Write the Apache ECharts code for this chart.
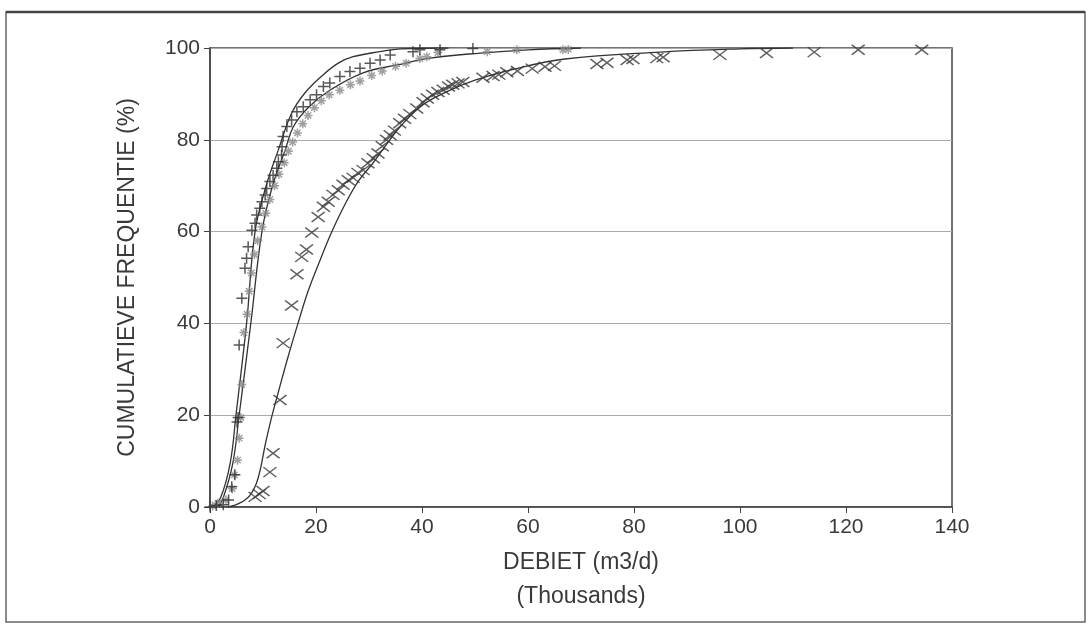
<!DOCTYPE html>
<html>
<head>
<meta charset="utf-8">
<script src="https://cdn.jsdelivr.net/npm/echarts@6/dist/echarts.min.js"></script>
<style>
  html, body { margin: 0; padding: 0; background: #fff; }
  #chart { width: 1090px; height: 630px; }
</style>
</head>
<body>
<div id="chart"></div>
<script>
// tick labels
const xTicks = [0, 20, 40, 60, 80, 100, 120, 140]
const yTicks = [0, 20, 40, 60, 80, 100]

// observed points: [debiet (thousands m3/d), cumulative %]
const plusPoints = [
  [0, 0], [1.2, 0.3], [2.5, 0.5], [3.5, 1.5], [4.1, 4.4], [4.7, 7], [5.1, 18.5], [5.3, 19.5],
  [5.5, 35.3], [6, 45.5], [6.6, 52], [6.9, 54.2], [7.2, 56.7], [7.9, 60.3], [8.5, 61.8],
  [8.8, 63.6], [9.4, 65.1], [9.8, 66.5], [10.4, 68], [10.7, 69.4], [11.3, 70.9], [11.9, 72.3],
  [12.6, 73.8], [12.9, 75.2], [13.5, 76.7], [13.6, 78.5], [13.8, 80.7], [14.5, 82.9],
  [15.4, 84.3], [16.4, 86.1], [17.6, 87.2], [18.9, 88.7], [20.1, 89.8], [21.4, 91.6],
  [22.6, 92.4], [24.5, 93.8], [26.4, 94.9], [28.3, 95.6], [30.2, 96.7], [32.1, 97.4],
  [34, 98.5], [38.3, 99.2], [39.6, 99.6], [43.4, 99.6], [49.6, 99.9]
]
const starPoints = [
  [0.5, 0.2], [1.5, 0.8], [3, 1.5], [4.2, 4], [4.6, 7], [5.2, 10.2], [5.5, 15], [5.8, 19.5],
  [6, 26.7], [6.4, 38], [7, 42], [7.4, 47], [7.8, 51], [8.4, 55], [9, 58], [9.8, 61],
  [10.5, 64], [11.3, 67], [12.2, 70], [13, 72.5], [14, 75], [14.8, 77.5], [15.6, 79.5],
  [16.5, 81.5], [17.5, 83.5], [18.5, 85.3], [19.7, 87], [21, 88.5], [22.5, 89.8],
  [24.5, 90.8], [26.5, 92], [28.3, 92.8], [30.5, 94], [32.5, 95], [35, 96], [37, 96.7],
  [39.6, 97.7], [40.9, 98.1], [43, 99], [52.3, 99.2], [57.9, 99.6], [66.6, 99.6], [67.6, 99.7]
]
const crossPoints = [
  [8.5, 2.2], [9.3, 2.8], [10, 3.5], [11.3, 7.6], [11.9, 11.7], [13.2, 23.3], [13.8, 35.7],
  [15.4, 43.9], [16.4, 50.7], [17.3, 54.5], [18.2, 56.1], [19.2, 59.8], [20.4, 63.2],
  [21.4, 65.4], [22.3, 66.5], [23.2, 68], [24.2, 69], [25.1, 70.2], [26.1, 71.2], [27, 71.7],
  [27.9, 72.8], [28.9, 73.4], [29.8, 74.9], [30.8, 76], [31.7, 77], [32.5, 78.6], [33.3, 80],
  [34, 81], [34.8, 82], [35.8, 83.6], [36.7, 84.6], [37.7, 85.6], [39, 86.8], [40.2, 88.2],
  [41, 89], [42, 89.8], [43, 90.4], [44, 90.9], [45, 91.6], [45.8, 92], [46.8, 92.3],
  [47.7, 92.6], [51.5, 93.5], [53.4, 93.9], [54.5, 94.2], [56, 94.7], [58, 95], [60.8, 95.5],
  [63.2, 95.9], [65, 96.1], [73, 96.5], [74.9, 96.8], [78.7, 97.4], [79.8, 97.6], [84.3, 97.8],
  [85.5, 98], [96.2, 98.5], [105, 98.9], [114, 99.1], [122.3, 99.6], [134.3, 99.6]
]

// fitted curves
const fitOuter = [
  [0.5, 0], [2, 2], [3.8, 9.5], [4.9, 20], [6.9, 40], [8.5, 60], [10.6, 70], [12.9, 77.8],
  [15.4, 85.8], [17.9, 90.2], [21, 93.8], [24.2, 96.7], [27, 98.1], [32, 99.2], [36, 99.8], [45, 100]
]
const fitInner = [
  [1.5, 0], [2.5, 2], [4.3, 9.5], [5.5, 20], [7.7, 40], [9.8, 60], [11.8, 70], [14.2, 77.8],
  [15.7, 82.8], [18.5, 87], [22.6, 90.8], [28.9, 94.6], [35.3, 96.3], [41.5, 97.8], [51, 98.9],
  [60, 99.6], [70, 100]
]
const fitWide = [
  [3.4, 0], [5.5, 0.8], [7.5, 2.5], [9, 6], [10.5, 14], [11.5, 19], [13, 25.5], [14.8, 33],
  [16.6, 40], [18.5, 47], [20.5, 53], [23, 60], [25.5, 66], [28, 71], [30.8, 75], [33, 78.5],
  [36, 83], [40, 87.5], [44.7, 90.5], [50, 93], [57, 95.3], [67, 97.6], [85, 99.1], [100, 99.8], [110, 100]
]

const FONT = "'Liberation Sans', Arial, sans-serif"
const INK = "#3a3a3a"

const chart = echarts.init(document.getElementById("chart"))

const curve = (data) => ({
  type: "line",
  data: data,
  smooth: 0.4,
  showSymbol: false,
  silent: true,
  lineStyle: { color: "#333", width: 1.3 },
  z: 2,
})

const marks = (data, symbol, size, color) => ({
  type: "scatter",
  data: data,
  symbol: symbol,
  symbolSize: size,
  itemStyle: { color: "transparent", borderColor: color, borderWidth: 1.5 },
  z: 3,
})

chart.setOption({
  backgroundColor: "#fff",
  animation: false,
  graphic: [
    { type: "rect", shape: { x: 6, y: 12, width: 1079, height: 610 }, style: { fill: "none", stroke: "#666", lineWidth: 1.5 } },
    { type: "line", shape: { x1: 6, y1: 12, x2: 1085, y2: 12 }, style: { stroke: "#444", lineWidth: 2.5 } },
  ],
  grid: {
    left: 210, right: 138, top: 48, bottom: 123,
    show: true, borderColor: "#444", borderWidth: 1.5, backgroundColor: "transparent",
  },
  xAxis: {
    type: "value",
    min: xTicks[0], max: xTicks[xTicks.length - 1], interval: 20,
    name: "DEBIET (m3/d)\n(Thousands)",
    nameLocation: "middle",
    nameGap: 39,
    nameTextStyle: { color: INK, fontSize: 23, fontFamily: FONT, lineHeight: 34, verticalAlign: "top" },
    axisLine: { lineStyle: { color: "#444", width: 1.5 } },
    axisTick: { show: true, length: 6, lineStyle: { color: "#444" } },
    axisLabel: { color: INK, fontSize: 21, fontFamily: FONT, margin: 10 },
    splitLine: { show: false },
  },
  yAxis: {
    type: "value",
    min: yTicks[0], max: yTicks[yTicks.length - 1], interval: 20,
    name: "CUMULATIEVE FREQUENTIE (%)",
    nameLocation: "middle",
    nameGap: 71,
    nameTextStyle: { color: INK, fontSize: 23, fontFamily: FONT },
    axisLine: { lineStyle: { color: "#444", width: 1.5 } },
    axisTick: { show: true, length: 6, lineStyle: { color: "#444" } },
    axisLabel: { color: INK, fontSize: 21, fontFamily: FONT, margin: 10 },
    splitLine: { lineStyle: { color: "#aaa", width: 1 } },
  },
  series: [
    curve(fitOuter),
    curve(fitInner),
    curve(fitWide),
    marks(starPoints, "path://M5,0L5,10M0,5L10,5M1.5,1.5L8.5,8.5M8.5,1.5L1.5,8.5", [9, 9], "#888"),
    marks(plusPoints, "path://M5,0L5,10M0,5L10,5", [11, 11], "#2e2e2e"),
    marks(crossPoints, "path://M0,0L10,10M10,0L0,10", [13, 10], "#3a3a3a"),
  ],
})
</script>
</body>
</html>
